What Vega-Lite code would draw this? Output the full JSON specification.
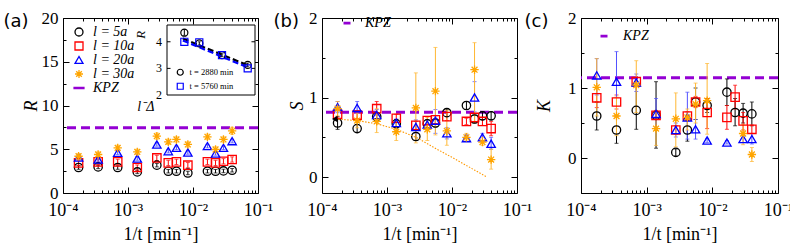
{
"$schema": "https://vega.github.io/schema/vega-lite/v6.json",
"padding": {"left": 2, "top": 8, "right": 2, "bottom": 2},
"bounds": "flush",
"spacing": 64,
"resolve": {"scale": {"color": "independent", "shape": "independent"}},
"config": {
  "font": "Liberation Serif",
  "view": {"stroke": "black", "strokeWidth": 1},
  "axis": {"grid": false, "domain": false, "tickColor": "black", "tickWidth": 1, "labelColor": "black", "titleColor": "black", "labelFont": "Liberation Serif", "titleFont": "Liberation Serif", "titleFontWeight": "normal"},
  "legend": {"labelFont": "Liberation Serif", "labelColor": "black", "title": null}
},
"datasets": {
  "kpz": [{"p": "a", "v": 7.45}, {"p": "b", "v": 0.815}, {"p": "c", "v": 1.145}],
  "curve": [{"x": 0.00016, "v": 0.73}, {"x": 0.00035, "v": 0.71}, {"x": 0.0007, "v": 0.67}, {"x": 0.0014, "v": 0.6}, {"x": 0.0028, "v": 0.5}, {"x": 0.0056, "v": 0.36}, {"x": 0.011, "v": 0.23}, {"x": 0.022, "v": 0.09}, {"x": 0.0347, "v": 0.0}],
  "arrow": [{"x": 0.000157, "v": 0.73}],
  "inset": [
    {"tt": "t = 2880 min", "x": 0.197, "y": 4.34, "lo": 4.24, "hi": 4.46},
    {"tt": "t = 2880 min", "x": 0.367, "y": 3.94, "lo": 3.88, "hi": 4.0},
    {"tt": "t = 2880 min", "x": 0.625, "y": 3.5, "lo": 3.45, "hi": 3.55},
    {"tt": "t = 2880 min", "x": 0.917, "y": 3.13, "lo": 3.06, "hi": 3.2},
    {"tt": "t = 5760 min", "x": 0.197, "y": 4.0, "lo": 3.95, "hi": 4.05},
    {"tt": "t = 5760 min", "x": 0.367, "y": 3.98, "lo": 3.93, "hi": 4.03},
    {"tt": "t = 5760 min", "x": 0.625, "y": 3.5, "lo": 3.45, "hi": 3.55},
    {"tt": "t = 5760 min", "x": 0.917, "y": 3.0, "lo": 2.95, "hi": 3.05}
  ],
  "fit": [
    {"tt": "t = 2880 min", "x": 0.18, "y": 4.12}, {"tt": "t = 2880 min", "x": 0.93, "y": 3.1},
    {"tt": "t = 5760 min", "x": 0.18, "y": 4.05}, {"tt": "t = 5760 min", "x": 0.93, "y": 3.02}
  ],
  "insetTicks": [{"v": 2, "lab": "2"}, {"v": 3, "lab": "3"}, {"v": 4, "lab": "4"}],
  "pts": [
    {"p":"a","s":"l = 5a","x":0.0001736,"v":2.91,"lo":2.71,"hi":3.11},
    {"p":"a","s":"l = 5a","x":0.0003472,"v":2.98,"lo":2.78,"hi":3.18},
    {"p":"a","s":"l = 5a","x":0.0006944,"v":2.91,"lo":2.71,"hi":3.11},
    {"p":"a","s":"l = 5a","x":0.001389,"v":2.41,"lo":2.21,"hi":2.61},
    {"p":"a","s":"l = 5a","x":0.002778,"v":3.18,"lo":2.98,"hi":3.38},
    {"p":"a","s":"l = 5a","x":0.004167,"v":2.49,"lo":2.29,"hi":2.69},
    {"p":"a","s":"l = 5a","x":0.005556,"v":2.49,"lo":2.29,"hi":2.69},
    {"p":"a","s":"l = 5a","x":0.008333,"v":2.29,"lo":2.09,"hi":2.49},
    {"p":"a","s":"l = 5a","x":0.01667,"v":2.49,"lo":2.29,"hi":2.69},
    {"p":"a","s":"l = 5a","x":0.02222,"v":2.49,"lo":2.29,"hi":2.69},
    {"p":"a","s":"l = 5a","x":0.02941,"v":2.52,"lo":2.32,"hi":2.72},
    {"p":"a","s":"l = 5a","x":0.04,"v":2.6,"lo":2.4,"hi":2.8},
    {"p":"a","s":"l = 10a","x":0.0001736,"v":3.44,"lo":3.14,"hi":3.74},
    {"p":"a","s":"l = 10a","x":0.0003472,"v":3.56,"lo":3.26,"hi":3.86},
    {"p":"a","s":"l = 10a","x":0.0006944,"v":3.56,"lo":3.26,"hi":3.86},
    {"p":"a","s":"l = 10a","x":0.001389,"v":2.91,"lo":2.61,"hi":3.21},
    {"p":"a","s":"l = 10a","x":0.002778,"v":4.01,"lo":3.71,"hi":4.31},
    {"p":"a","s":"l = 10a","x":0.004167,"v":3.44,"lo":3.14,"hi":3.74},
    {"p":"a","s":"l = 10a","x":0.005556,"v":3.56,"lo":3.26,"hi":3.86},
    {"p":"a","s":"l = 10a","x":0.008333,"v":3.18,"lo":2.88,"hi":3.48},
    {"p":"a","s":"l = 10a","x":0.01667,"v":3.56,"lo":3.26,"hi":3.86},
    {"p":"a","s":"l = 10a","x":0.02222,"v":3.44,"lo":3.14,"hi":3.74},
    {"p":"a","s":"l = 10a","x":0.02941,"v":3.63,"lo":3.33,"hi":3.93},
    {"p":"a","s":"l = 10a","x":0.04,"v":3.83,"lo":3.53,"hi":4.13},
    {"p":"a","s":"l = 20a","x":0.0001736,"v":4.06,"lo":3.86,"hi":4.26},
    {"p":"a","s":"l = 20a","x":0.0003472,"v":3.83,"lo":3.63,"hi":4.03},
    {"p":"a","s":"l = 20a","x":0.0006944,"v":4.59,"lo":4.39,"hi":4.79},
    {"p":"a","s":"l = 20a","x":0.001389,"v":3.94,"lo":3.74,"hi":4.14},
    {"p":"a","s":"l = 20a","x":0.002778,"v":5.55,"lo":5.35,"hi":5.75},
    {"p":"a","s":"l = 20a","x":0.004167,"v":4.78,"lo":4.58,"hi":4.98},
    {"p":"a","s":"l = 20a","x":0.005556,"v":5.16,"lo":4.96,"hi":5.36},
    {"p":"a","s":"l = 20a","x":0.008333,"v":4.63,"lo":4.43,"hi":4.83},
    {"p":"a","s":"l = 20a","x":0.01667,"v":5.36,"lo":5.16,"hi":5.56},
    {"p":"a","s":"l = 20a","x":0.02222,"v":4.52,"lo":4.32,"hi":4.72},
    {"p":"a","s":"l = 20a","x":0.02941,"v":5.16,"lo":4.96,"hi":5.36},
    {"p":"a","s":"l = 20a","x":0.04,"v":5.93,"lo":5.73,"hi":6.13},
    {"p":"a","s":"l = 30a","x":0.0001736,"v":4.2,"lo":3.9,"hi":4.5},
    {"p":"a","s":"l = 30a","x":0.0003472,"v":4.4,"lo":4.1,"hi":4.7},
    {"p":"a","s":"l = 30a","x":0.0006944,"v":5.16,"lo":4.86,"hi":5.46},
    {"p":"a","s":"l = 30a","x":0.001389,"v":4.7,"lo":4.4,"hi":5.0},
    {"p":"a","s":"l = 30a","x":0.002778,"v":6.5,"lo":6.15,"hi":6.85},
    {"p":"a","s":"l = 30a","x":0.004167,"v":5.85,"lo":5.55,"hi":6.15},
    {"p":"a","s":"l = 30a","x":0.005556,"v":6.12,"lo":5.82,"hi":6.42},
    {"p":"a","s":"l = 30a","x":0.008333,"v":5.55,"lo":5.25,"hi":5.85},
    {"p":"a","s":"l = 30a","x":0.01667,"v":6.42,"lo":6.12,"hi":6.72},
    {"p":"a","s":"l = 30a","x":0.02222,"v":4.98,"lo":4.68,"hi":5.28},
    {"p":"a","s":"l = 30a","x":0.02941,"v":6.12,"lo":5.82,"hi":6.42},
    {"p":"a","s":"l = 30a","x":0.04,"v":7.11,"lo":6.71,"hi":7.51},

    {"p":"b","s":"l = 5a","x":0.0001736,"v":0.68,"lo":0.6,"hi":0.76},
    {"p":"b","s":"l = 5a","x":0.0003472,"v":0.61,"lo":0.56,"hi":0.66},
    {"p":"b","s":"l = 5a","x":0.0006944,"v":0.76,"lo":0.71,"hi":0.81},
    {"p":"b","s":"l = 5a","x":0.001389,"v":0.67,"lo":0.62,"hi":0.72},
    {"p":"b","s":"l = 5a","x":0.002778,"v":0.51,"lo":0.46,"hi":0.56},
    {"p":"b","s":"l = 5a","x":0.004167,"v":0.67,"lo":0.62,"hi":0.72},
    {"p":"b","s":"l = 5a","x":0.005556,"v":0.68,"lo":0.63,"hi":0.73},
    {"p":"b","s":"l = 5a","x":0.008333,"v":0.81,"lo":0.76,"hi":0.86},
    {"p":"b","s":"l = 5a","x":0.01667,"v":0.9,"lo":0.85,"hi":0.95},
    {"p":"b","s":"l = 5a","x":0.02222,"v":0.73,"lo":0.68,"hi":0.78},
    {"p":"b","s":"l = 5a","x":0.02941,"v":0.77,"lo":0.72,"hi":0.82},
    {"p":"b","s":"l = 5a","x":0.04,"v":0.77,"lo":0.72,"hi":0.82},
    {"p":"b","s":"l = 10a","x":0.0001736,"v":0.79,"lo":0.74,"hi":0.84},
    {"p":"b","s":"l = 10a","x":0.0003472,"v":0.78,"lo":0.73,"hi":0.83},
    {"p":"b","s":"l = 10a","x":0.0006944,"v":0.86,"lo":0.78,"hi":0.95},
    {"p":"b","s":"l = 10a","x":0.001389,"v":0.74,"lo":0.69,"hi":0.79},
    {"p":"b","s":"l = 10a","x":0.002778,"v":0.65,"lo":0.6,"hi":0.7},
    {"p":"b","s":"l = 10a","x":0.004167,"v":0.71,"lo":0.66,"hi":0.76},
    {"p":"b","s":"l = 10a","x":0.005556,"v":0.72,"lo":0.67,"hi":0.77},
    {"p":"b","s":"l = 10a","x":0.008333,"v":0.76,"lo":0.71,"hi":0.81},
    {"p":"b","s":"l = 10a","x":0.01667,"v":0.7,"lo":0.66,"hi":0.74},
    {"p":"b","s":"l = 10a","x":0.02222,"v":0.75,"lo":0.7,"hi":0.8},
    {"p":"b","s":"l = 10a","x":0.02941,"v":0.7,"lo":0.65,"hi":0.75},
    {"p":"b","s":"l = 10a","x":0.04,"v":0.61,"lo":0.52,"hi":0.7},
    {"p":"b","s":"l = 20a","x":0.0001736,"v":0.88,"lo":0.81,"hi":0.95},
    {"p":"b","s":"l = 20a","x":0.0003472,"v":0.87,"lo":0.8,"hi":0.95},
    {"p":"b","s":"l = 20a","x":0.0006944,"v":0.78,"lo":0.71,"hi":0.85},
    {"p":"b","s":"l = 20a","x":0.001389,"v":0.68,"lo":0.63,"hi":0.73},
    {"p":"b","s":"l = 20a","x":0.002778,"v":0.63,"lo":0.55,"hi":0.72},
    {"p":"b","s":"l = 20a","x":0.004167,"v":0.66,"lo":0.6,"hi":0.72},
    {"p":"b","s":"l = 20a","x":0.005556,"v":0.71,"lo":0.55,"hi":0.85},
    {"p":"b","s":"l = 20a","x":0.008333,"v":0.55,"lo":0.48,"hi":0.62},
    {"p":"b","s":"l = 20a","x":0.01667,"v":0.49,"lo":0.45,"hi":0.53},
    {"p":"b","s":"l = 20a","x":0.02222,"v":1.0,"lo":0.82,"hi":1.2},
    {"p":"b","s":"l = 20a","x":0.02941,"v":0.5,"lo":0.45,"hi":0.55},
    {"p":"b","s":"l = 20a","x":0.04,"v":0.42,"lo":0.35,"hi":0.5},
    {"p":"b","s":"l = 30a","x":0.0001736,"v":0.86,"lo":0.77,"hi":0.95},
    {"p":"b","s":"l = 30a","x":0.0003472,"v":0.71,"lo":0.62,"hi":0.8},
    {"p":"b","s":"l = 30a","x":0.0006944,"v":0.7,"lo":0.56,"hi":0.86},
    {"p":"b","s":"l = 30a","x":0.001389,"v":0.57,"lo":0.46,"hi":0.7},
    {"p":"b","s":"l = 30a","x":0.002778,"v":0.87,"lo":0.43,"hi":1.31},
    {"p":"b","s":"l = 30a","x":0.004167,"v":0.6,"lo":0.46,"hi":0.75},
    {"p":"b","s":"l = 30a","x":0.005556,"v":1.08,"lo":0.53,"hi":1.63},
    {"p":"b","s":"l = 30a","x":0.008333,"v":0.58,"lo":0.4,"hi":0.84},
    {"p":"b","s":"l = 30a","x":0.01667,"v":0.5,"lo":0.45,"hi":0.55},
    {"p":"b","s":"l = 30a","x":0.02222,"v":1.35,"lo":0.69,"hi":1.69},
    {"p":"b","s":"l = 30a","x":0.02941,"v":0.44,"lo":0.4,"hi":0.5},
    {"p":"b","s":"l = 30a","x":0.04,"v":0.22,"lo":0.1,"hi":0.35},

    {"p":"c","s":"l = 5a","x":0.0001736,"v":0.6,"lo":0.4,"hi":0.8},
    {"p":"c","s":"l = 5a","x":0.0003472,"v":0.4,"lo":0.21,"hi":0.6},
    {"p":"c","s":"l = 5a","x":0.0006944,"v":0.68,"lo":0.41,"hi":1.09},
    {"p":"c","s":"l = 5a","x":0.001389,"v":0.61,"lo":0.14,"hi":1.09},
    {"p":"c","s":"l = 5a","x":0.002778,"v":0.08,"lo":0.03,"hi":0.13},
    {"p":"c","s":"l = 5a","x":0.004167,"v":0.4,"lo":0.24,"hi":0.6},
    {"p":"c","s":"l = 5a","x":0.005556,"v":0.8,"lo":0.55,"hi":1.0},
    {"p":"c","s":"l = 5a","x":0.008333,"v":0.75,"lo":0.65,"hi":0.85},
    {"p":"c","s":"l = 5a","x":0.01667,"v":0.94,"lo":0.75,"hi":1.13},
    {"p":"c","s":"l = 5a","x":0.02222,"v":0.65,"lo":0.46,"hi":0.85},
    {"p":"c","s":"l = 5a","x":0.02941,"v":0.64,"lo":0.5,"hi":0.78},
    {"p":"c","s":"l = 5a","x":0.04,"v":0.63,"lo":0.46,"hi":0.8},
    {"p":"c","s":"l = 10a","x":0.0001736,"v":0.86,"lo":0.72,"hi":1.0},
    {"p":"c","s":"l = 10a","x":0.0003472,"v":0.8,"lo":0.7,"hi":0.9},
    {"p":"c","s":"l = 10a","x":0.0006944,"v":1.09,"lo":1.02,"hi":1.15},
    {"p":"c","s":"l = 10a","x":0.001389,"v":0.61,"lo":0.55,"hi":0.67},
    {"p":"c","s":"l = 10a","x":0.002778,"v":0.4,"lo":0.34,"hi":0.46},
    {"p":"c","s":"l = 10a","x":0.004167,"v":0.6,"lo":0.54,"hi":0.66},
    {"p":"c","s":"l = 10a","x":0.005556,"v":0.8,"lo":0.72,"hi":0.88},
    {"p":"c","s":"l = 10a","x":0.008333,"v":0.65,"lo":0.42,"hi":0.85},
    {"p":"c","s":"l = 10a","x":0.01667,"v":0.58,"lo":0.41,"hi":0.75},
    {"p":"c","s":"l = 10a","x":0.02222,"v":0.87,"lo":0.7,"hi":1.04},
    {"p":"c","s":"l = 10a","x":0.02941,"v":0.53,"lo":0.4,"hi":0.65},
    {"p":"c","s":"l = 10a","x":0.04,"v":0.41,"lo":0.35,"hi":0.47},
    {"p":"c","s":"l = 20a","x":0.0001736,"v":1.18,"lo":0.9,"hi":1.42},
    {"p":"c","s":"l = 20a","x":0.0003472,"v":1.09,"lo":0.6,"hi":1.52},
    {"p":"c","s":"l = 20a","x":0.0006944,"v":1.08,"lo":0.95,"hi":1.2},
    {"p":"c","s":"l = 20a","x":0.001389,"v":0.63,"lo":0.4,"hi":0.85},
    {"p":"c","s":"l = 20a","x":0.002778,"v":0.4,"lo":0.3,"hi":0.5},
    {"p":"c","s":"l = 20a","x":0.004167,"v":0.58,"lo":0.27,"hi":0.94},
    {"p":"c","s":"l = 20a","x":0.005556,"v":0.41,"lo":0.27,"hi":0.55},
    {"p":"c","s":"l = 20a","x":0.008333,"v":0.25,"lo":0.22,"hi":0.28},
    {"p":"c","s":"l = 20a","x":0.01667,"v":0.22,"lo":0.2,"hi":0.25},
    {"p":"c","s":"l = 20a","x":0.02941,"v":0.27,"lo":0.22,"hi":0.32},
    {"p":"c","s":"l = 20a","x":0.04,"v":0.27,"lo":0.2,"hi":0.35},
    {"p":"c","s":"l = 30a","x":0.0001736,"v":1.01,"lo":0.6,"hi":1.42},
    {"p":"c","s":"l = 30a","x":0.0003472,"v":0.6,"lo":0.32,"hi":0.87},
    {"p":"c","s":"l = 30a","x":0.0006944,"v":1.04,"lo":0.65,"hi":1.39},
    {"p":"c","s":"l = 30a","x":0.001389,"v":0.42,"lo":0.18,"hi":0.68},
    {"p":"c","s":"l = 30a","x":0.002778,"v":0.56,"lo":0.16,"hi":0.93},
    {"p":"c","s":"l = 30a","x":0.004167,"v":0.58,"lo":0.4,"hi":0.7},
    {"p":"c","s":"l = 30a","x":0.005556,"v":0.77,"lo":0.5,"hi":1.07},
    {"p":"c","s":"l = 30a","x":0.008333,"v":0.82,"lo":0.34,"hi":1.35},
    {"p":"c","s":"l = 30a","x":0.02941,"v":0.35,"lo":0.19,"hi":0.48},
    {"p":"c","s":"l = 30a","x":0.04,"v":0.05,"lo":-0.05,"hi":0.15}
  ]
},
"hconcat": [
{
  "width": 195, "height": 175,
  "layer": [
    {
      "layer": [
        {"data": {"name": "kpz"}, "transform": [{"filter": "datum.p == 'a'"}],
         "mark": {"type": "rule", "color": "#9400d3", "strokeDash": [9, 5], "strokeWidth": 3},
         "encoding": {"y": {"field": "v", "type": "quantitative", "scale": {"domain": [0, 20], "nice": false}, "axis": null}}},
        {"data": {"name": "pts"}, "transform": [{"filter": "datum.p == 'a' && datum.s == 'l = 5a'"}],
         "mark": {"type": "errorbar", "orient": "vertical", "ticks": {"size": 4}, "color": "#000000"},
         "encoding": {"x": {"field": "x", "type": "quantitative", "scale": {"type": "log", "domain": [0.0001, 0.1], "nice": false}, "axis": null},
                      "y": {"field": "lo", "type": "quantitative", "scale": {"domain": [0, 20], "nice": false}, "axis": null}, "y2": {"field": "hi"}}},
        {"data": {"name": "pts"}, "transform": [{"filter": "datum.p == 'a' && datum.s == 'l = 10a'"}],
         "mark": {"type": "errorbar", "orient": "vertical", "ticks": {"size": 4}, "color": "#ff0000"},
         "encoding": {"x": {"field": "x", "type": "quantitative", "scale": {"type": "log", "domain": [0.0001, 0.1], "nice": false}, "axis": null},
                      "y": {"field": "lo", "type": "quantitative", "scale": {"domain": [0, 20], "nice": false}, "axis": null}, "y2": {"field": "hi"}}},
        {"data": {"name": "pts"}, "transform": [{"filter": "datum.p == 'a' && datum.s == 'l = 20a'"}],
         "mark": {"type": "errorbar", "orient": "vertical", "ticks": {"size": 4}, "color": "#5050ff"},
         "encoding": {"x": {"field": "x", "type": "quantitative", "scale": {"type": "log", "domain": [0.0001, 0.1], "nice": false}, "axis": null},
                      "y": {"field": "lo", "type": "quantitative", "scale": {"domain": [0, 20], "nice": false}, "axis": null}, "y2": {"field": "hi"}}},
        {"data": {"name": "pts"}, "transform": [{"filter": "datum.p == 'a' && datum.s == 'l = 30a'"}],
         "mark": {"type": "errorbar", "orient": "vertical", "ticks": {"size": 4}, "color": "#ffb732"},
         "encoding": {"x": {"field": "x", "type": "quantitative", "scale": {"type": "log", "domain": [0.0001, 0.1], "nice": false}, "axis": null},
                      "y": {"field": "lo", "type": "quantitative", "scale": {"domain": [0, 20], "nice": false}, "axis": null}, "y2": {"field": "hi"}}},
        {"data": {"name": "pts"}, "transform": [{"filter": "datum.p == 'a'"}],
         "mark": {"type": "point", "filled": false, "strokeWidth": 1.3, "size": 70, "opacity": 1},
         "encoding": {
           "x": {"field": "x", "type": "quantitative", "scale": {"type": "log", "domain": [0.0001, 0.1], "nice": false},
                 "axis": {"orient": "bottom", "values": [0.0001,0.0002,0.0003,0.0004,0.0005,0.0006,0.0007,0.0008,0.0009,0.001,0.002,0.003,0.004,0.005,0.006,0.007,0.008,0.009,0.01,0.02,0.03,0.04,0.05,0.06,0.07,0.08,0.09,0.1],
                          "labelExpr": "datum.value == 0.0001 ? '10⁻⁴' : datum.value == 0.001 ? '10⁻³' : datum.value == 0.01 ? '10⁻²' : datum.value == 0.1 ? '10⁻¹' : ''",
                          "tickSize": {"condition": {"test": "indexof([0.0001, 0.001, 0.01, 0.1], datum.value) >= 0", "value": -6}, "value": -3},
                          "labelPadding": 14, "labelFontSize": 18, "labelFlush": false, "labelOverlap": false, "labelBound": false,
                          "title": "1/t [min⁻¹]", "titleFontSize": 18, "titleY": 41, "titleBaseline": "middle"}},
           "y": {"field": "v", "type": "quantitative", "scale": {"domain": [0, 20], "nice": false},
                 "axis": {"orient": "left", "values": [0, 2.5, 5, 7.5, 10, 12.5, 15, 17.5, 20],
                          "labelExpr": "datum.value % 5 == 0 ? '' + datum.value : ''",
                          "tickSize": {"condition": {"test": "datum.value % 5 == 0", "value": -6}, "value": -3},
                          "labelPadding": 11, "labelFontSize": 17, "labelOverlap": false, "labelBound": false, "labelFlush": false,
                          "title": "R", "titleFontStyle": "italic", "titleFontSize": 18, "titleX": -32, "titleY": 87.5, "titleBaseline": "middle"}},
           "color": {"field": "s", "type": "nominal", "scale": {"domain": ["l = 5a", "l = 10a", "l = 20a", "l = 30a", "KPZ"], "range": ["#000000", "#ff0000", "#0000ff", "#ffa500", "#9400d3"]},
                     "legend": {"orient": "none", "legendX": 9, "legendY": 7, "padding": 0, "labelFontStyle": "italic", "labelFontSize": 14, "symbolSize": 64, "symbolStrokeWidth": 1.3, "rowPadding": -1, "labelOffset": 7}},
           "shape": {"field": "s", "type": "nominal", "scale": {"domain": ["l = 5a", "l = 10a", "l = 20a", "l = 30a", "KPZ"], "range": ["circle", "square", "triangle-up", "M0,-1L0,1M-1,0L1,0M-0.7,-0.7L0.7,0.7M-0.7,0.7L0.7,-0.7", "M-1.4,-0.15L1.4,-0.15M-1.4,0L1.4,0M-1.4,0.15L1.4,0.15"]},
                     "legend": {"orient": "none", "legendX": 9, "legendY": 7, "padding": 0, "labelFontStyle": "italic", "labelFontSize": 14, "symbolSize": 64, "symbolStrokeWidth": 1.3, "rowPadding": -1, "labelOffset": 7}}}},
        {"data": {"name": "pts"}, "transform": [{"filter": "datum.p == 'a'"}],
         "mark": {"type": "point", "opacity": 0},
         "encoding": {
           "x": {"field": "x", "type": "quantitative", "scale": {"type": "log", "domain": [0.0001, 0.1], "nice": false},
                 "axis": {"orient": "top", "values": [0.0001,0.0002,0.0003,0.0004,0.0005,0.0006,0.0007,0.0008,0.0009,0.001,0.002,0.003,0.004,0.005,0.006,0.007,0.008,0.009,0.01,0.02,0.03,0.04,0.05,0.06,0.07,0.08,0.09,0.1], "labels": false, "minExtent": 0,
                          "title": "(a)", "titleFont": "DejaVu Sans", "titleFontSize": 18, "titleFontWeight": "normal", "titleX": -60, "titleY": 3, "titleAlign": "left", "titleBaseline": "middle", "titleAngle": 0,
                          "tickSize": {"condition": {"test": "indexof([0.0001, 0.001, 0.01, 0.1], datum.value) >= 0", "value": -6}, "value": -3}}},
           "y": {"field": "v", "type": "quantitative", "scale": {"domain": [0, 20], "nice": false},
                 "axis": {"orient": "right", "values": [0, 2.5, 5, 7.5, 10, 12.5, 15, 17.5, 20], "labels": false, "title": null, "minExtent": 0,
                          "tickSize": {"condition": {"test": "datum.value % 5 == 0", "value": -6}, "value": -3}}}}}
      ],
      "resolve": {"axis": {"x": "independent", "y": "independent"}}
    },
    {
      "layer": [
        {"data": {"values": [{"x0": 0, "x1": 1, "y0": 2, "y1": 4.63}]},
         "mark": {"type": "rect", "fill": "white", "stroke": "black", "strokeWidth": 1},
         "encoding": {
           "x": {"field": "x0", "type": "quantitative", "scale": {"domain": [0, 1], "range": [104, 192], "nice": false, "zero": false}, "axis": null},
           "x2": {"field": "x1"},
           "y": {"field": "y0", "type": "quantitative", "scale": {"domain": [2, 4.63], "range": [77, 7], "nice": false, "zero": false}, "axis": null},
           "y2": {"field": "y1"}}},
        {"data": {"name": "insetTicks"}, "transform": [{"filter": "datum.v > 2"}],
         "mark": {"type": "rule", "color": "black", "strokeWidth": 1},
         "encoding": {"x": {"datum": 0, "type": "quantitative", "axis": null}, "x2": {"datum": 0.04}, "y": {"field": "v", "type": "quantitative", "axis": null}}},
        {"data": {"name": "insetTicks"}, "transform": [{"filter": "datum.v > 2"}],
         "mark": {"type": "rule", "color": "black", "strokeWidth": 1},
         "encoding": {"x": {"datum": 0.96, "type": "quantitative", "axis": null}, "x2": {"datum": 1}, "y": {"field": "v", "type": "quantitative", "axis": null}}},
        {"data": {"name": "insetTicks"},
         "mark": {"type": "text", "align": "right", "baseline": "middle", "dx": -5, "fontSize": 12, "font": "Liberation Serif", "color": "black"},
         "encoding": {"x": {"datum": 0, "type": "quantitative", "axis": null}, "y": {"field": "v", "type": "quantitative", "axis": null}, "text": {"field": "lab"}}},
        {"data": {"values": [{"t": "R"}]},
         "mark": {"type": "text", "angle": 270, "align": "center", "baseline": "middle", "fontSize": 13, "fontStyle": "italic", "font": "Liberation Serif", "color": "black"},
         "encoding": {"x": {"datum": -0.295, "type": "quantitative", "axis": null}, "y": {"datum": 4.26, "type": "quantitative", "axis": null}, "text": {"field": "t"}}},
        {"data": {"values": [{"t": "l⁻Δ"}]},
         "mark": {"type": "text", "align": "center", "baseline": "middle", "fontSize": 14, "fontStyle": "italic", "font": "Liberation Serif", "color": "black"},
         "encoding": {"x": {"datum": -0.24, "type": "quantitative", "axis": null}, "y": {"datum": 1.55, "type": "quantitative", "axis": null}, "text": {"field": "t"}}},
        {"data": {"name": "fit"}, "transform": [{"filter": "datum.tt == 't = 2880 min'"}],
         "mark": {"type": "line", "color": "black", "strokeDash": [6, 3], "strokeWidth": 2.2},
         "encoding": {"x": {"field": "x", "type": "quantitative", "axis": null}, "y": {"field": "y", "type": "quantitative", "axis": null}}},
        {"data": {"name": "fit"}, "transform": [{"filter": "datum.tt == 't = 5760 min'"}],
         "mark": {"type": "line", "color": "#0000ff", "strokeDash": [6, 3], "strokeWidth": 2.2},
         "encoding": {"x": {"field": "x", "type": "quantitative", "axis": null}, "y": {"field": "y", "type": "quantitative", "axis": null}}},
        {"data": {"name": "inset"}, "transform": [{"filter": "datum.tt == 't = 2880 min'"}],
         "mark": {"type": "errorbar", "orient": "vertical", "ticks": {"size": 3}, "color": "black"},
         "encoding": {"x": {"field": "x", "type": "quantitative", "axis": null}, "y": {"field": "lo", "type": "quantitative", "axis": null}, "y2": {"field": "hi"}}},
        {"data": {"name": "inset"},
         "mark": {"type": "point", "filled": false, "strokeWidth": 1.2, "size": 50, "opacity": 1},
         "encoding": {
           "x": {"field": "x", "type": "quantitative", "axis": null},
           "y": {"field": "y", "type": "quantitative", "axis": null},
           "color": {"field": "tt", "type": "nominal", "scale": {"domain": ["t = 2880 min", "t = 5760 min"], "range": ["#000000", "#0000ff"]},
                     "legend": {"orient": "none", "legendX": 113, "legendY": 50, "padding": 0, "labelFontSize": 8.5, "symbolSize": 36, "symbolStrokeWidth": 1.2, "rowPadding": 2, "labelOffset": 5}},
           "shape": {"field": "tt", "type": "nominal", "scale": {"domain": ["t = 2880 min", "t = 5760 min"], "range": ["circle", "square"]},
                     "legend": {"orient": "none", "legendX": 113, "legendY": 50, "padding": 0, "labelFontSize": 8.5, "symbolSize": 36, "symbolStrokeWidth": 1.2, "rowPadding": 2, "labelOffset": 5}}}}
      ]
    }
  ],
  "resolve": {"scale": {"x": "independent", "y": "independent", "color": "independent", "shape": "independent"}, "axis": {"x": "independent", "y": "independent"}}
},
{
  "width": 195, "height": 175,
  "layer": [
    {"data": {"name": "kpz"}, "transform": [{"filter": "datum.p == 'b'"}],
     "mark": {"type": "rule", "color": "#9400d3", "strokeDash": [9, 5], "strokeWidth": 3},
     "encoding": {"y": {"field": "v", "type": "quantitative", "scale": {"domain": [-0.2, 2], "nice": false}, "axis": null}}},
    {"data": {"name": "pts"}, "transform": [{"filter": "datum.p == 'b' && datum.s == 'l = 5a'"}],
     "mark": {"type": "errorbar", "orient": "vertical", "ticks": {"size": 4}, "color": "#000000"},
     "encoding": {"x": {"field": "x", "type": "quantitative", "scale": {"type": "log", "domain": [0.0001, 0.1], "nice": false}, "axis": null},
                  "y": {"field": "lo", "type": "quantitative", "scale": {"domain": [-0.2, 2], "nice": false}, "axis": null}, "y2": {"field": "hi"}}},
    {"data": {"name": "pts"}, "transform": [{"filter": "datum.p == 'b' && datum.s == 'l = 10a'"}],
     "mark": {"type": "errorbar", "orient": "vertical", "ticks": {"size": 4}, "color": "#ff0000"},
     "encoding": {"x": {"field": "x", "type": "quantitative", "scale": {"type": "log", "domain": [0.0001, 0.1], "nice": false}, "axis": null},
                  "y": {"field": "lo", "type": "quantitative", "scale": {"domain": [-0.2, 2], "nice": false}, "axis": null}, "y2": {"field": "hi"}}},
    {"data": {"name": "pts"}, "transform": [{"filter": "datum.p == 'b' && datum.s == 'l = 20a'"}],
     "mark": {"type": "errorbar", "orient": "vertical", "ticks": {"size": 4}, "color": "#5050ff"},
     "encoding": {"x": {"field": "x", "type": "quantitative", "scale": {"type": "log", "domain": [0.0001, 0.1], "nice": false}, "axis": null},
                  "y": {"field": "lo", "type": "quantitative", "scale": {"domain": [-0.2, 2], "nice": false}, "axis": null}, "y2": {"field": "hi"}}},
    {"data": {"name": "pts"}, "transform": [{"filter": "datum.p == 'b' && datum.s == 'l = 30a'"}],
     "mark": {"type": "errorbar", "orient": "vertical", "ticks": {"size": 4}, "color": "#ffb732"},
     "encoding": {"x": {"field": "x", "type": "quantitative", "scale": {"type": "log", "domain": [0.0001, 0.1], "nice": false}, "axis": null},
                  "y": {"field": "lo", "type": "quantitative", "scale": {"domain": [-0.2, 2], "nice": false}, "axis": null}, "y2": {"field": "hi"}}},
    {"data": {"name": "pts"}, "transform": [{"filter": "datum.p == 'b'"}],
     "mark": {"type": "point", "filled": false, "strokeWidth": 1.3, "size": 70, "opacity": 1},
     "encoding": {
       "x": {"field": "x", "type": "quantitative", "scale": {"type": "log", "domain": [0.0001, 0.1], "nice": false},
             "axis": {"orient": "bottom", "values": [0.0001,0.0002,0.0003,0.0004,0.0005,0.0006,0.0007,0.0008,0.0009,0.001,0.002,0.003,0.004,0.005,0.006,0.007,0.008,0.009,0.01,0.02,0.03,0.04,0.05,0.06,0.07,0.08,0.09,0.1],
                      "labelExpr": "datum.value == 0.0001 ? '10⁻⁴' : datum.value == 0.001 ? '10⁻³' : datum.value == 0.01 ? '10⁻²' : datum.value == 0.1 ? '10⁻¹' : ''",
                      "tickSize": {"condition": {"test": "indexof([0.0001, 0.001, 0.01, 0.1], datum.value) >= 0", "value": -6}, "value": -3},
                      "labelPadding": 14, "labelFontSize": 18, "labelFlush": false, "labelOverlap": false, "labelBound": false,
                      "title": "1/t [min⁻¹]", "titleFontSize": 18, "titleY": 41, "titleBaseline": "middle"}},
       "y": {"field": "v", "type": "quantitative", "scale": {"domain": [-0.2, 2], "nice": false},
             "axis": {"orient": "left", "values": [0, 0.5, 1, 1.5, 2],
                      "labelExpr": "datum.value % 1 == 0 ? '' + datum.value : ''",
                      "tickSize": {"condition": {"test": "datum.value % 1 == 0", "value": -6}, "value": -3},
                      "labelPadding": 11, "labelFontSize": 17, "labelOverlap": false, "labelBound": false, "labelFlush": false,
                      "title": "S", "titleFontStyle": "italic", "titleFontSize": 18, "titleX": -25, "titleY": 87.5, "titleBaseline": "middle"}},
       "color": {"field": "s", "type": "nominal", "scale": {"domain": ["l = 5a", "l = 10a", "l = 20a", "l = 30a", "KPZ"], "range": ["#000000", "#ff0000", "#0000ff", "#ffa500", "#9400d3"]},
                 "legend": {"values": ["KPZ"], "orient": "none", "legendX": 18, "legendY": -2, "padding": 0, "labelFontStyle": "italic", "labelFontSize": 14, "symbolSize": 25, "symbolStrokeWidth": 2, "labelOffset": 11}},
       "shape": {"field": "s", "type": "nominal", "scale": {"domain": ["l = 5a", "l = 10a", "l = 20a", "l = 30a", "KPZ"], "range": ["circle", "square", "triangle-up", "M0,-1L0,1M-1,0L1,0M-0.7,-0.7L0.7,0.7M-0.7,0.7L0.7,-0.7", "M-1.4,-0.15L1.4,-0.15M-1.4,0L1.4,0M-1.4,0.15L1.4,0.15"]},
                 "legend": {"values": ["KPZ"], "orient": "none", "legendX": 18, "legendY": -2, "padding": 0, "labelFontStyle": "italic", "labelFontSize": 14, "symbolSize": 25, "symbolStrokeWidth": 2, "labelOffset": 11}}}},
    {"data": {"name": "curve"},
     "mark": {"type": "line", "color": "#ff9900", "strokeDash": [1.5, 1.5], "strokeWidth": 1.1},
     "encoding": {"x": {"field": "x", "type": "quantitative", "scale": {"type": "log", "domain": [0.0001, 0.1], "nice": false}, "axis": null},
                  "y": {"field": "v", "type": "quantitative", "scale": {"domain": [-0.2, 2], "nice": false}, "axis": null}}},
    {"data": {"name": "arrow"},
     "mark": {"type": "point", "shape": "triangle-left", "filled": true, "color": "black", "size": 40, "opacity": 1},
     "encoding": {"x": {"field": "x", "type": "quantitative", "scale": {"type": "log", "domain": [0.0001, 0.1], "nice": false}, "axis": null},
                  "y": {"field": "v", "type": "quantitative", "scale": {"domain": [-0.2, 2], "nice": false}, "axis": null}}},
    {"data": {"name": "pts"}, "transform": [{"filter": "datum.p == 'b'"}],
     "mark": {"type": "point", "opacity": 0},
     "encoding": {
       "x": {"field": "x", "type": "quantitative", "scale": {"type": "log", "domain": [0.0001, 0.1], "nice": false},
             "axis": {"orient": "top", "values": [0.0001,0.0002,0.0003,0.0004,0.0005,0.0006,0.0007,0.0008,0.0009,0.001,0.002,0.003,0.004,0.005,0.006,0.007,0.008,0.009,0.01,0.02,0.03,0.04,0.05,0.06,0.07,0.08,0.09,0.1], "labels": false, "minExtent": 0,
                      "title": "(b)", "titleFont": "DejaVu Sans", "titleFontSize": 18, "titleFontWeight": "normal", "titleX": -49, "titleY": 3, "titleAlign": "left", "titleBaseline": "middle", "titleAngle": 0,
                      "tickSize": {"condition": {"test": "indexof([0.0001, 0.001, 0.01, 0.1], datum.value) >= 0", "value": -6}, "value": -3}}},
       "y": {"field": "v", "type": "quantitative", "scale": {"domain": [-0.2, 2], "nice": false},
             "axis": {"orient": "right", "values": [0, 0.5, 1, 1.5, 2], "labels": false, "title": null, "minExtent": 0,
                      "tickSize": {"condition": {"test": "datum.value % 1 == 0", "value": -6}, "value": -3}}}}}
  ],
  "resolve": {"axis": {"x": "independent", "y": "independent"}}
},
{
  "width": 197, "height": 175,
  "layer": [
    {"data": {"name": "kpz"}, "transform": [{"filter": "datum.p == 'c'"}],
     "mark": {"type": "rule", "color": "#9400d3", "strokeDash": [9, 5], "strokeWidth": 3},
     "encoding": {"y": {"field": "v", "type": "quantitative", "scale": {"domain": [-0.5, 2], "nice": false}, "axis": null}}},
    {"data": {"name": "pts"}, "transform": [{"filter": "datum.p == 'c' && datum.s == 'l = 5a'"}],
     "mark": {"type": "errorbar", "orient": "vertical", "ticks": {"size": 4}, "color": "#000000"},
     "encoding": {"x": {"field": "x", "type": "quantitative", "scale": {"type": "log", "domain": [0.0001, 0.1], "nice": false}, "axis": null},
                  "y": {"field": "lo", "type": "quantitative", "scale": {"domain": [-0.5, 2], "nice": false}, "axis": null}, "y2": {"field": "hi"}}},
    {"data": {"name": "pts"}, "transform": [{"filter": "datum.p == 'c' && datum.s == 'l = 10a'"}],
     "mark": {"type": "errorbar", "orient": "vertical", "ticks": {"size": 4}, "color": "#ff0000"},
     "encoding": {"x": {"field": "x", "type": "quantitative", "scale": {"type": "log", "domain": [0.0001, 0.1], "nice": false}, "axis": null},
                  "y": {"field": "lo", "type": "quantitative", "scale": {"domain": [-0.5, 2], "nice": false}, "axis": null}, "y2": {"field": "hi"}}},
    {"data": {"name": "pts"}, "transform": [{"filter": "datum.p == 'c' && datum.s == 'l = 20a'"}],
     "mark": {"type": "errorbar", "orient": "vertical", "ticks": {"size": 4}, "color": "#5050ff"},
     "encoding": {"x": {"field": "x", "type": "quantitative", "scale": {"type": "log", "domain": [0.0001, 0.1], "nice": false}, "axis": null},
                  "y": {"field": "lo", "type": "quantitative", "scale": {"domain": [-0.5, 2], "nice": false}, "axis": null}, "y2": {"field": "hi"}}},
    {"data": {"name": "pts"}, "transform": [{"filter": "datum.p == 'c' && datum.s == 'l = 30a'"}],
     "mark": {"type": "errorbar", "orient": "vertical", "ticks": {"size": 4}, "color": "#ffb732"},
     "encoding": {"x": {"field": "x", "type": "quantitative", "scale": {"type": "log", "domain": [0.0001, 0.1], "nice": false}, "axis": null},
                  "y": {"field": "lo", "type": "quantitative", "scale": {"domain": [-0.5, 2], "nice": false}, "axis": null}, "y2": {"field": "hi"}}},
    {"data": {"name": "pts"}, "transform": [{"filter": "datum.p == 'c'"}],
     "mark": {"type": "point", "filled": false, "strokeWidth": 1.3, "size": 70, "opacity": 1},
     "encoding": {
       "x": {"field": "x", "type": "quantitative", "scale": {"type": "log", "domain": [0.0001, 0.1], "nice": false},
             "axis": {"orient": "bottom", "values": [0.0001,0.0002,0.0003,0.0004,0.0005,0.0006,0.0007,0.0008,0.0009,0.001,0.002,0.003,0.004,0.005,0.006,0.007,0.008,0.009,0.01,0.02,0.03,0.04,0.05,0.06,0.07,0.08,0.09,0.1],
                      "labelExpr": "datum.value == 0.0001 ? '10⁻⁴' : datum.value == 0.001 ? '10⁻³' : datum.value == 0.01 ? '10⁻²' : datum.value == 0.1 ? '10⁻¹' : ''",
                      "tickSize": {"condition": {"test": "indexof([0.0001, 0.001, 0.01, 0.1], datum.value) >= 0", "value": -6}, "value": -3},
                      "labelPadding": 14, "labelFontSize": 18, "labelFlush": false, "labelOverlap": false, "labelBound": false,
                      "title": "1/t [min⁻¹]", "titleFontSize": 18, "titleY": 41, "titleBaseline": "middle"}},
       "y": {"field": "v", "type": "quantitative", "scale": {"domain": [-0.5, 2], "nice": false},
             "axis": {"orient": "left", "values": [-0.5, 0, 0.5, 1, 1.5, 2],
                      "labelExpr": "datum.value % 1 == 0 ? '' + datum.value : ''",
                      "tickSize": {"condition": {"test": "datum.value % 1 == 0", "value": -6}, "value": -3},
                      "labelPadding": 11, "labelFontSize": 17, "labelOverlap": false, "labelBound": false, "labelFlush": false,
                      "title": "K", "titleFontStyle": "italic", "titleFontSize": 18, "titleX": -37, "titleY": 87.5, "titleBaseline": "middle"}},
       "color": {"field": "s", "type": "nominal", "scale": {"domain": ["KPZ", "l = 5a", "l = 10a", "l = 20a", "l = 30a"], "range": ["#9400d3", "#000000", "#ff0000", "#0000ff", "#ffa500"]},
                 "legend": {"values": ["KPZ"], "orient": "none", "legendX": 16, "legendY": 11, "padding": 0, "labelFontStyle": "italic", "labelFontSize": 14, "symbolSize": 25, "symbolStrokeWidth": 2, "labelOffset": 12}},
       "shape": {"field": "s", "type": "nominal", "scale": {"domain": ["KPZ", "l = 5a", "l = 10a", "l = 20a", "l = 30a"], "range": ["M-1.4,-0.15L1.4,-0.15M-1.4,0L1.4,0M-1.4,0.15L1.4,0.15", "circle", "square", "triangle-up", "M0,-1L0,1M-1,0L1,0M-0.7,-0.7L0.7,0.7M-0.7,0.7L0.7,-0.7"]},
                 "legend": {"values": ["KPZ"], "orient": "none", "legendX": 16, "legendY": 11, "padding": 0, "labelFontStyle": "italic", "labelFontSize": 14, "symbolSize": 25, "symbolStrokeWidth": 2, "labelOffset": 12}}}},
    {"data": {"name": "pts"}, "transform": [{"filter": "datum.p == 'c'"}],
     "mark": {"type": "point", "opacity": 0},
     "encoding": {
       "x": {"field": "x", "type": "quantitative", "scale": {"type": "log", "domain": [0.0001, 0.1], "nice": false},
             "axis": {"orient": "top", "values": [0.0001,0.0002,0.0003,0.0004,0.0005,0.0006,0.0007,0.0008,0.0009,0.001,0.002,0.003,0.004,0.005,0.006,0.007,0.008,0.009,0.01,0.02,0.03,0.04,0.05,0.06,0.07,0.08,0.09,0.1], "labels": false, "minExtent": 0,
                      "title": "(c)", "titleFont": "DejaVu Sans", "titleFontSize": 18, "titleFontWeight": "normal", "titleX": -57, "titleY": 3, "titleAlign": "left", "titleBaseline": "middle", "titleAngle": 0,
                      "tickSize": {"condition": {"test": "indexof([0.0001, 0.001, 0.01, 0.1], datum.value) >= 0", "value": -6}, "value": -3}}},
       "y": {"field": "v", "type": "quantitative", "scale": {"domain": [-0.5, 2], "nice": false},
             "axis": {"orient": "right", "values": [-0.5, 0, 0.5, 1, 1.5, 2], "labels": false, "title": null, "minExtent": 0,
                      "tickSize": {"condition": {"test": "datum.value % 1 == 0", "value": -6}, "value": -3}}}}}
  ],
  "resolve": {"axis": {"x": "independent", "y": "independent"}}
}
]
}
